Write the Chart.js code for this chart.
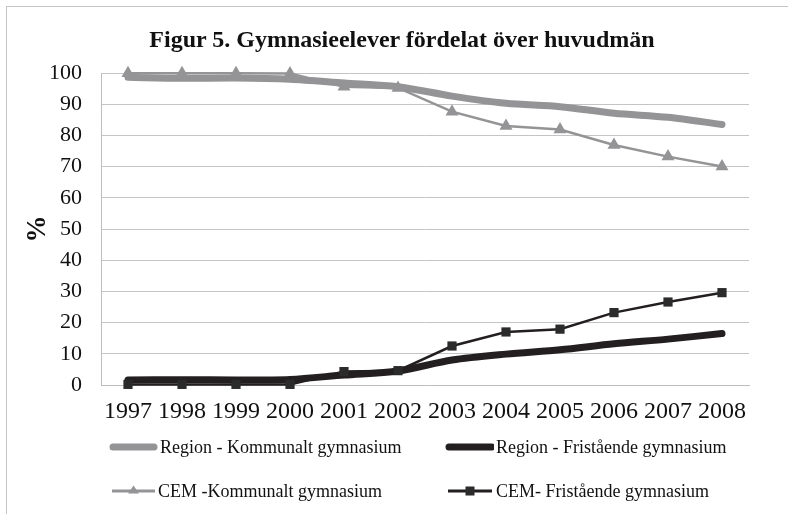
<!DOCTYPE html>
<html>
<head>
<meta charset="utf-8">
<script src="https://cdn.jsdelivr.net/npm/chart.js@4/dist/chart.umd.min.js"></script>
<style>
  html, body { margin: 0; padding: 0; background: #fff; }
  #wrap { position: relative; width: 788px; height: 514px; overflow: hidden; font-family: "Liberation Serif", "Times New Roman", serif; }
  #frame { position: absolute; left: 6px; top: 6px; width: 800px; height: 600px; border: 1px solid #c4c4c4; box-sizing: border-box; }
  canvas { position: absolute; left: 0; top: 0; }
  #title { position: absolute; left: 0; width: 804px; top: 24px; text-align: center; font-size: 24px; font-weight: bold; color: #111; line-height: 30px; white-space: nowrap; }
  .leg { position: absolute; display: flex; align-items: center; font-size: 18px; color: #111; white-space: nowrap; }
  .leg svg { display: block; margin-right: 2px; }
</style>
</head>
<body>
<div id="wrap">
  <div id="frame"></div>
  <canvas id="c" width="788" height="514"></canvas>
  <div id="title">Figur 5. Gymnasieelever fördelat över huvudmän</div>
  <div class="leg" style="left:108px; top:436px;">
    <svg width="50" height="22"><line x1="5" y1="11" x2="46" y2="11" stroke="#949497" stroke-width="7" stroke-linecap="round"/></svg>
    <span>Region - Kommunalt gymnasium</span>
  </div>
  <div class="leg" style="left:444px; top:436px;">
    <svg width="50" height="22"><line x1="5" y1="11" x2="48" y2="11" stroke="#231f20" stroke-width="7" stroke-linecap="round"/></svg>
    <span>Region - Fristående gymnasium</span>
  </div>
  <div class="leg" style="left:110px; top:480px;">
    <svg width="46" height="22"><line x1="2" y1="11" x2="45" y2="11" stroke="#949497" stroke-width="3"/><polygon points="23.5,5.5 29,13.5 18,13.5" fill="#949497"/></svg>
    <span>CEM -Kommunalt gymnasium</span>
  </div>
  <div class="leg" style="left:446px; top:480px;">
    <svg width="48" height="22"><line x1="2" y1="11" x2="46" y2="11" stroke="#231f20" stroke-width="3"/><rect x="19.5" y="6.5" width="9" height="9" fill="#2b2b2b"/></svg>
    <span>CEM- Fristående gymnasium</span>
  </div>
</div>
<script>
const years = ["1997","1998","1999","2000","2001","2002","2003","2004","2005","2006","2007","2008"];
const regionKommunalt = [98.6, 98.3, 98.4, 98.0, 96.8, 95.6, 92.6, 90.3, 89.2, 87.1, 85.8, 83.5];
const regionFristaende = [1.6, 1.7, 1.6, 1.8, 3.2, 4.5, 8.0, 9.9, 11.3, 13.2, 14.7, 16.5];
const cemKommunalt = [99.9, 99.9, 99.9, 99.8, 95.6, 95.2, 87.6, 83.0, 81.9, 76.9, 73.2, 70.0];
const cemFristaende = [0.2, 0.2, 0.2, 0.2, 4.3, 4.6, 12.5, 17.0, 17.9, 23.2, 26.6, 29.6];
const yTicks = [0, 10, 20, 30, 40, 50, 60, 70, 80, 90, 100];

const GRAY = '#949497';
const BLACK = '#231f20';
const FONT = '"Liberation Serif", "Times New Roman", serif';

new Chart(document.getElementById('c'), {
  type: 'line',
  data: {
    labels: years,
    datasets: [
      { label: 'Region - Kommunalt gymnasium', data: regionKommunalt, borderColor: GRAY, backgroundColor: GRAY,
        borderWidth: 7, pointRadius: 0, tension: 0.3, borderCapStyle: 'round', order: 4, clip: false },
      { label: 'Region - Fristående gymnasium', data: regionFristaende, borderColor: BLACK, backgroundColor: BLACK,
        borderWidth: 7, pointRadius: 0, tension: 0.3, borderCapStyle: 'round', order: 3, clip: false },
      { label: 'CEM -Kommunalt gymnasium', data: cemKommunalt, borderColor: GRAY, backgroundColor: GRAY,
        borderWidth: 2.5, pointStyle: 'triangle', pointRadius: 7.5, pointBorderWidth: 0, tension: 0, order: 2, clip: false },
      { label: 'CEM- Fristående gymnasium', data: cemFristaende, borderColor: BLACK, backgroundColor: '#2b2b2b',
        borderWidth: 2.5, pointStyle: 'rect', pointRadius: 6.5, pointBorderWidth: 0, tension: 0, order: 1, clip: false }
    ]
  },
  options: {
    responsive: false,
    animation: false,
    devicePixelRatio: 1,
    layout: { padding: { left: 0, right: 39, top: 73, bottom: 89 } },
    plugins: {
      legend: { display: false },
      tooltip: { enabled: false },
      title: { display: false }
    },
    scales: {
      x: {
        offset: true,
        grid: { display: false, drawTicks: false },
        border: { display: true, color: '#bdbdbd', width: 1 },
        ticks: { color: '#111', font: { family: FONT, size: 24 }, padding: 12, maxRotation: 0, autoSkip: false },
        afterFit: (s) => { s.height = 40; }
      },
      y: {
        min: 0, max: 100,
        afterBuildTicks: (s) => { s.ticks = yTicks.map(v => ({ value: v })); },
        grid: { color: '#c4c4c4', lineWidth: 1, drawTicks: false },
        border: { display: true, color: '#bdbdbd', width: 1 },
        ticks: { color: '#111', font: { family: FONT, size: 22 }, padding: 19 },
        title: { display: true, text: '%', color: '#111', font: { family: FONT, size: 27, weight: 'bold' }, padding: { top: 22, bottom: 0 } },
        afterFit: (s) => { s.width = 101; }
      }
    }
  }
});
</script>
</body>
</html>
